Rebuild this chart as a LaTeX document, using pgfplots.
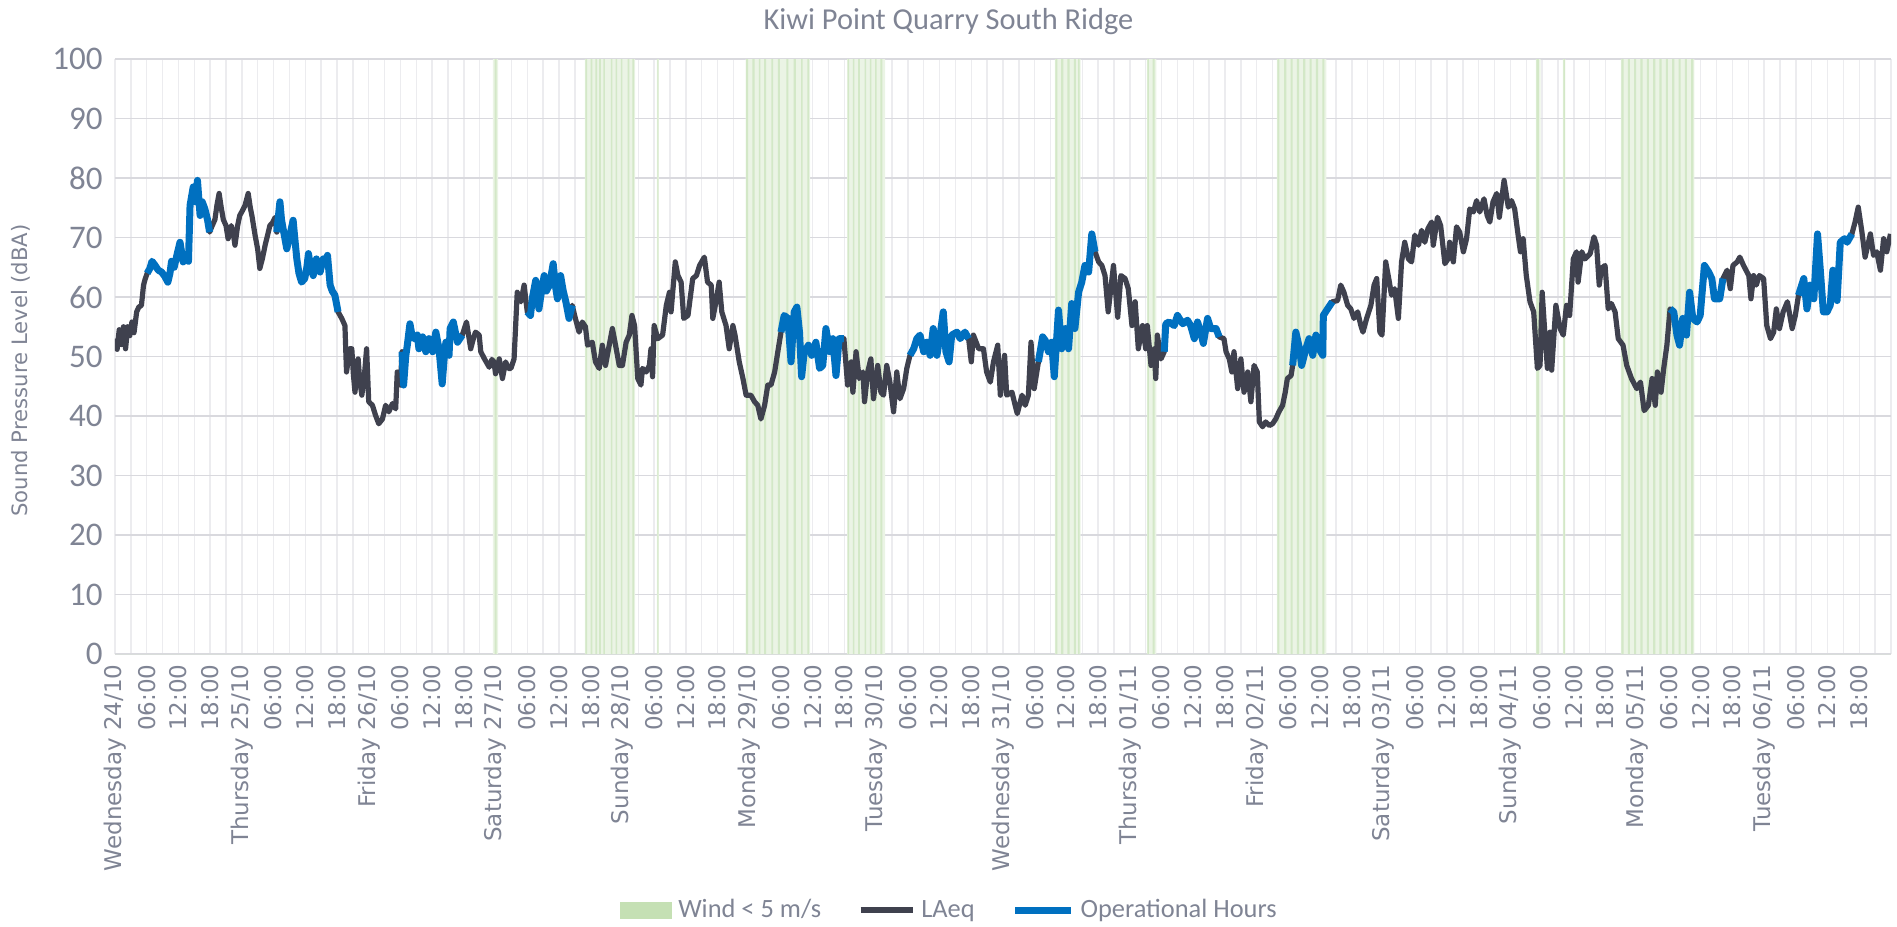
\documentclass[border=0pt]{standalone}
\usepackage{fontspec}
\setmainfont{Carlito}
\newfontfamily\dejavu{DejaVu Sans}
\usepackage{pgfplots}
\usepackage{pgfplotstable}
\pgfplotsset{compat=1.18}
\definecolor{txtgrey}{RGB}{127,132,148}
\definecolor{laeqc}{RGB}{63,65,78}
\definecolor{opblue}{RGB}{0,112,192}
\definecolor{windgreen}{RGB}{197,224,180}
\definecolor{hgrid}{RGB}{217,217,222}
\definecolor{vgrid}{RGB}{236,236,239}

\pgfplotstableread[row sep=\\]{
h v\\
0 53\\ 0.4 51.2\\ 0.8 54.5\\ 1.2 52\\ 1.6 55\\ 2.0 51.3\\ 2.4 55\\ 2.8 53.5\\ 3.2 55.8\\ 3.6 54\\ 4.1 57.5\\ 4.5 58.3\\ 5.0 58.6\\ 5.4 62\\ 5.7 63\\
6.1 64\\ 6.6 64.8\\ 7.0 66\\ 7.6 65.3\\ 8.2 64.5\\ 8.8 64.2\\ 9.4 63.5\\ 10.0 62.5\\ 10.4 64\\ 10.7 66\\ 11.2 65\\ 11.7 67\\ 12.3 69.2\\ 12.9 65.9\\ 13.4 66.5\\ 13.9 66\\ 14.2 75.4\\ 14.8 78.5\\ 15.2 76\\ 15.6 79.6\\ 16.1 73.7\\ 16.5 76\\ 17.0 74.8\\ 17.5 73\\ 17.9 70.9\\
18.4 72\\ 18.9 73\\ 19.3 75.5\\ 19.7 77.4\\ 20.1 75\\ 20.5 73\\ 21.0 72\\ 21.4 69.8\\ 22.0 72\\ 22.4 70.5\\ 22.7 68.7\\ 23.2 72\\ 23.6 73.7\\ 24.1 74.5\\ 24.6 75.4\\ 25.2 77.4\\ 25.6 75\\ 25.9 73.7\\ 26.5 70.4\\ 27.0 68\\ 27.4 64.8\\ 27.9 66.5\\ 28.4 68.7\\ 28.9 70.5\\ 29.3 72\\ 29.8 72.5\\ 30.3 73.4\\
30.6 70.9\\ 31.2 76\\ 31.5 73\\ 31.8 71.5\\ 32.5 68.1\\ 33.1 70.4\\ 33.7 72.9\\ 34.0 70\\ 34.4 66.4\\ 34.8 64\\ 35.3 62.5\\ 35.9 63.1\\ 36.3 65\\ 36.6 67.3\\ 37.0 65\\ 37.5 63.6\\ 38.1 66.4\\ 38.5 65\\ 38.8 64.2\\ 39.4 66.4\\ 39.8 65.5\\ 40.2 67\\ 40.7 62\\ 41.1 61\\ 41.6 60.3\\ 42.2 57.5\\
42.9 56.4\\ 43.5 55.2\\ 43.8 47.4\\ 44.4 51.3\\ 44.8 51.3\\ 45.1 47\\ 45.4 44\\ 46.0 49.6\\ 46.3 46\\ 46.7 43.5\\ 47.2 47\\ 47.6 51.3\\ 48.0 42.4\\ 48.7 41.8\\ 49.3 40.1\\ 49.9 38.7\\ 50.6 39.5\\ 51.2 41.8\\ 51.8 40.7\\ 52.5 42.1\\ 53.1 41.2\\ 53.4 47.4\\ 54.0 45.2\\
54.3 50.8\\ 54.6 45.2\\ 55.0 50\\ 55.3 51.9\\ 55.8 55.5\\ 56.2 53.5\\ 56.6 53\\ 57.2 53.6\\ 57.5 51.3\\ 58.2 53.3\\ 58.8 50.8\\ 59.4 53\\ 60.1 50.8\\ 60.7 54.1\\ 61.3 51.3\\ 61.9 45.4\\ 62.3 50\\ 62.6 52.4\\ 63.2 50.2\\ 63.4 54.7\\ 64.0 55.8\\ 64.8 52.4\\ 65.7 53.6\\
66.5 55.8\\ 67.0 53\\ 67.3 51.3\\ 67.8 53\\ 68.2 54.1\\ 68.9 53.6\\ 69.2 50.8\\ 69.9 49.6\\ 70.8 48.2\\ 71.3 49.5\\ 71.7 49.1\\ 72.0 47.1\\ 72.7 49.6\\ 73.3 46.3\\ 73.9 49.1\\ 74.4 48\\ 74.9 48\\ 75.5 49.6\\ 76.1 60.8\\ 76.8 59.2\\ 77.4 62\\
78.0 57.5\\ 78.6 56.9\\ 79.0 60\\ 79.6 62.8\\ 80.2 58\\ 80.7 61\\ 81.2 63.6\\ 81.6 61\\ 82.2 62\\ 82.9 65.6\\ 83.3 62\\ 83.7 59.7\\ 84.3 63.6\\ 84.8 61\\ 85.3 59.2\\ 85.9 56.4\\ 86.5 58.6\\
87.1 56.4\\ 87.8 54.1\\ 88.4 55.8\\ 89.0 55\\ 89.4 51.9\\ 90.3 52.4\\ 90.9 49.1\\ 91.6 48\\ 92.2 51.9\\ 92.8 48.5\\ 93.5 51.9\\ 94.1 54.7\\ 94.7 51.9\\ 95.4 48.5\\ 96.0 48.5\\ 96.7 52.4\\ 97.3 53.6\\ 97.8 56.9\\ 98.3 55.2\\ 98.9 46.3\\ 99.5 45.2\\ 99.8 48\\ 100.5 47.4\\ 101.1 48.5\\ 101.4 51.3\\ 101.7 46.6\\ 102.0 55.2\\ 102.7 53\\ 103.6 53.6\\ 104.3 58.6\\ 104.9 60.8\\ 105.2 57.5\\ 106.0 65.9\\ 106.5 63.6\\ 107.1 62.5\\ 107.6 56.4\\ 108.4 56.9\\ 109.3 63.1\\ 110.0 63.6\\ 110.6 65.3\\ 111.5 66.7\\ 112.1 62.5\\ 112.8 62\\ 113.1 56.4\\ 113.7 59.2\\ 114.3 62.5\\ 114.8 57.5\\ 115.6 55.2\\ 116.2 51.3\\ 116.9 55.2\\ 117.3 53.6\\ 118.1 49.1\\ 118.8 46.3\\ 119.4 43.5\\ 120.3 43.5\\ 121.0 42.4\\ 121.6 41.8\\ 122.2 39.5\\ 122.9 41.8\\ 123.5 45.2\\ 124.1 45.2\\ 124.8 47.4\\ 125.4 50.8\\
126.0 54.1\\ 126.6 56.9\\ 127.3 56.4\\ 127.9 49.1\\ 128.5 57.5\\ 129.0 58.3\\ 129.5 54.1\\ 129.9 46.6\\ 130.4 50.8\\ 131.2 51.9\\ 131.8 50.2\\ 132.6 52.4\\ 133.3 48\\ 133.9 48.5\\ 134.5 54.7\\ 135.2 50.8\\ 135.8 53\\ 136.4 46.8\\ 137.0 53\\ 137.9 53\\
138.6 45.2\\ 139.3 49.1\\ 139.6 44\\ 140.2 50.8\\ 140.8 46.3\\ 141.5 47.4\\ 141.8 42.4\\ 142.4 47.4\\ 143.0 49.6\\ 143.5 42.9\\ 144.3 48.5\\ 144.9 44\\ 145.4 43.5\\ 146.0 48.5\\ 146.6 45.7\\ 147.3 40.7\\ 147.9 47.4\\ 148.5 42.9\\ 149.2 44.6\\ 149.8 48\\
150.4 50.2\\ 151.1 51.3\\ 151.7 53\\ 152.3 53.6\\ 153.0 50.8\\ 153.6 52.4\\ 154.2 50.2\\ 154.8 54.7\\ 155.5 50.2\\ 156.1 53.6\\ 156.7 57.5\\ 157.2 50.8\\ 157.8 49.1\\ 158.3 53.6\\ 159.3 54.1\\ 159.9 53\\ 160.8 54.1\\ 161.5 53\\
162.0 49.1\\ 162.4 53.6\\ 163.4 51.3\\ 164.3 51.3\\ 164.9 47.4\\ 165.6 45.7\\ 166.2 49.1\\ 167.0 51.9\\ 167.5 43.5\\ 168.3 50.2\\ 168.7 43.5\\ 169.7 44\\ 170.3 41.8\\ 170.7 40.4\\ 171.6 43.5\\ 172.2 41.8\\ 172.8 43.5\\ 173.3 52.4\\ 173.9 44.6\\
174.7 49.1\\ 175.5 53.3\\ 176.0 52.7\\ 176.6 50.8\\ 177.2 52.4\\ 177.7 46.6\\ 178.5 57.8\\ 179.1 51.3\\ 179.8 54.7\\ 180.4 51.3\\ 181.0 58.9\\ 181.6 54.7\\ 182.3 60.8\\ 182.9 62.5\\ 183.5 65.3\\ 184.2 64.2\\ 184.8 70.6\\ 185.4 67.6\\
186.1 65.9\\ 186.7 65.3\\ 187.3 63.6\\ 187.9 57.5\\ 188.9 65.3\\ 189.7 56.6\\ 190.3 63.6\\ 191.1 63.1\\ 191.7 61.4\\ 192.4 55.2\\ 193.0 59.2\\ 193.6 51.3\\ 194.4 55.2\\ 195.0 51.3\\ 195.3 55.2\\ 196.0 48.5\\ 196.6 51.3\\ 196.9 46.3\\ 197.2 53.6\\ 197.9 49.6\\
198.5 50.8\\ 198.8 55.5\\ 199.4 55.8\\ 200.4 55.2\\ 201.0 56.9\\ 202.0 55.5\\ 202.9 56.1\\ 203.5 55.2\\ 204.2 53\\ 204.8 55.8\\ 205.4 54.1\\ 205.9 52.2\\ 206.7 56.4\\ 207.3 54.7\\ 208.3 54.7\\ 208.9 53.3\\
209.8 53\\ 210.2 50.8\\ 210.8 49.6\\ 211.3 47.4\\ 211.7 50.8\\ 212.4 44.6\\ 213.0 49.6\\ 213.6 44\\ 214.3 47.4\\ 214.9 42.4\\ 215.5 48.5\\ 216.1 47.4\\ 216.5 39\\ 217.1 38.2\\ 217.7 39\\ 218.4 38.4\\ 219.0 38.7\\ 219.6 39.5\\ 220.2 40.7\\ 220.9 41.8\\ 221.4 44\\ 221.8 46.3\\ 222.5 46.8\\
222.8 48.5\\ 223.4 54.1\\ 224.1 51.3\\ 224.5 48.5\\ 225.3 51.3\\ 225.9 53\\ 226.6 50.2\\ 227.2 53.6\\ 227.8 51.3\\ 228.5 50.2\\ 228.6 56.9\\ 229.4 58\\ 230.3 59.2\\
231.3 59.4\\ 231.9 62\\ 232.5 60.8\\ 233.2 58.6\\ 233.8 58\\ 234.4 56.4\\ 235.1 57.5\\ 235.7 55.2\\ 236.1 54.1\\ 236.8 56.4\\ 237.6 58.6\\ 238.2 62\\ 238.7 63.1\\ 239.3 54.1\\ 239.7 53.6\\ 240.4 65.9\\ 241.1 62.5\\ 241.5 60.3\\ 242.1 61.4\\ 242.8 56.4\\ 243.4 65.9\\ 244.0 69.2\\ 244.7 66.4\\ 245.3 65.9\\ 245.9 70.4\\ 246.6 68.7\\ 247.2 71.2\\ 247.8 69.2\\ 248.4 71.5\\ 249.1 72.6\\ 249.4 68.7\\ 250.2 73.4\\ 250.8 72\\ 251.6 65.6\\ 252.2 66.4\\ 252.5 69.2\\ 253.2 65.9\\ 253.8 71.8\\ 254.4 70.9\\ 255.1 67.6\\ 255.7 69.8\\ 256.3 74.8\\ 257.0 74.3\\ 257.6 76.2\\ 258.2 74.3\\ 259.0 76.5\\ 259.6 73.7\\ 260.1 72.6\\ 260.7 76\\ 261.4 77.4\\ 261.9 73.4\\ 262.8 79.6\\ 263.6 75.1\\ 264.2 76.2\\ 264.8 74.8\\ 265.5 70.1\\ 265.9 67.6\\ 266.4 69.8\\ 267.0 63.6\\ 267.7 59.2\\ 268.4 57.5\\ 269.1 48\\ 269.6 48.5\\ 270.0 60.8\\ 270.5 54.1\\ 271.0 48\\ 271.5 54.1\\ 271.8 47.7\\ 272.6 58.6\\ 273.4 54.7\\ 274.0 53.6\\ 274.6 58.6\\ 275.2 56.9\\ 275.9 66.4\\ 276.5 67.6\\ 276.8 62.5\\ 277.5 67.6\\ 278.1 66.4\\ 279.1 67.3\\ 279.8 70.1\\ 280.3 68.7\\ 280.8 62\\ 281.2 64.8\\ 281.9 65.3\\ 282.5 58\\ 283.1 58.9\\ 283.8 57.5\\ 284.4 53\\ 285.3 51.9\\ 286.0 48.5\\ 286.9 46.3\\ 287.9 44.6\\ 288.6 45.7\\ 289.3 40.9\\ 290.1 41.8\\ 290.8 46.3\\ 291.4 41.8\\ 291.8 47.4\\ 292.5 44\\ 293.0 48\\ 293.6 51.9\\
294.2 58\\ 294.9 57.5\\ 295.5 53.6\\ 296.0 51.9\\ 296.6 56.4\\ 297.3 53.6\\ 297.9 60.8\\ 298.5 56.4\\ 299.3 55.8\\ 299.9 56.9\\ 300.7 65.3\\ 301.5 64.2\\ 302.1 63.1\\ 302.6 59.7\\ 303.6 59.7\\ 304.2 63.1\\
305.0 64.5\\ 305.6 61.4\\ 306.1 65.3\\ 306.9 65.9\\ 307.4 66.7\\ 308.1 65.3\\ 309.1 63.6\\ 309.5 59.7\\ 310.0 63.6\\ 310.5 62\\ 311.1 63.6\\ 311.9 63.1\\ 312.5 55.2\\ 313.2 53\\ 313.8 54.1\\ 314.3 58\\ 314.9 54.7\\ 315.6 57.5\\ 316.4 59.2\\ 317.3 54.7\\ 317.9 56.9\\
318.5 60.3\\ 319.5 63.1\\ 320.1 58\\ 320.7 62\\ 321.4 59.7\\ 322.1 70.6\\ 322.6 64.8\\ 323.2 57.5\\ 323.9 57.5\\ 324.5 58.6\\ 325.0 64.5\\ 325.8 59.4\\ 326.4 69.2\\ 327.2 69.8\\ 327.7 69.2\\ 328.6 70.6\\
329.2 72.6\\ 329.8 75.1\\ 330.5 70.9\\ 331.1 66.7\\ 332.1 70.6\\ 332.7 67\\ 333.3 67.6\\ 334.0 64.5\\ 334.6 69.8\\ 335.2 67.6\\ 335.9 70.6\\
}\laeq

\pgfplotstableread[row sep=\\]{
h v\\
6.1 64\\ 6.6 64.8\\ 7.0 66\\ 7.6 65.3\\ 8.2 64.5\\ 8.8 64.2\\ 9.4 63.5\\ 10.0 62.5\\ 10.4 64\\ 10.7 66\\ 11.2 65\\ 11.7 67\\ 12.3 69.2\\ 12.9 65.9\\ 13.4 66.5\\ 13.9 66\\ 14.2 75.4\\ 14.8 78.5\\ 15.2 76\\ 15.6 79.6\\ 16.1 73.7\\ 16.5 76\\ 17.0 74.8\\ 17.5 73\\ 17.9 70.9\\ 18 nan\\
30.6 70.9\\ 31.2 76\\ 31.5 73\\ 31.8 71.5\\ 32.5 68.1\\ 33.1 70.4\\ 33.7 72.9\\ 34.0 70\\ 34.4 66.4\\ 34.8 64\\ 35.3 62.5\\ 35.9 63.1\\ 36.3 65\\ 36.6 67.3\\ 37.0 65\\ 37.5 63.6\\ 38.1 66.4\\ 38.5 65\\ 38.8 64.2\\ 39.4 66.4\\ 39.8 65.5\\ 40.2 67\\ 40.7 62\\ 41.1 61\\ 41.6 60.3\\ 42.2 57.5\\ 42.5 nan\\
54.3 50.8\\ 54.6 45.2\\ 55.0 50\\ 55.3 51.9\\ 55.8 55.5\\ 56.2 53.5\\ 56.6 53\\ 57.2 53.6\\ 57.5 51.3\\ 58.2 53.3\\ 58.8 50.8\\ 59.4 53\\ 60.1 50.8\\ 60.7 54.1\\ 61.3 51.3\\ 61.9 45.4\\ 62.3 50\\ 62.6 52.4\\ 63.2 50.2\\ 63.4 54.7\\ 64.0 55.8\\ 64.8 52.4\\ 65.7 53.6\\ 66 nan\\
78.0 57.5\\ 78.6 56.9\\ 79.0 60\\ 79.6 62.8\\ 80.2 58\\ 80.7 61\\ 81.2 63.6\\ 81.6 61\\ 82.2 62\\ 82.9 65.6\\ 83.3 62\\ 83.7 59.7\\ 84.3 63.6\\ 84.8 61\\ 85.3 59.2\\ 85.9 56.4\\ 86.5 58.6\\ 87 nan\\
126.0 54.1\\ 126.6 56.9\\ 127.3 56.4\\ 127.9 49.1\\ 128.5 57.5\\ 129.0 58.3\\ 129.5 54.1\\ 129.9 46.6\\ 130.4 50.8\\ 131.2 51.9\\ 131.8 50.2\\ 132.6 52.4\\ 133.3 48\\ 133.9 48.5\\ 134.5 54.7\\ 135.2 50.8\\ 135.8 53\\ 136.4 46.8\\ 137.0 53\\ 137.9 53\\ 138 nan\\
150.4 50.2\\ 151.1 51.3\\ 151.7 53\\ 152.3 53.6\\ 153.0 50.8\\ 153.6 52.4\\ 154.2 50.2\\ 154.8 54.7\\ 155.5 50.2\\ 156.1 53.6\\ 156.7 57.5\\ 157.2 50.8\\ 157.8 49.1\\ 158.3 53.6\\ 159.3 54.1\\ 159.9 53\\ 160.8 54.1\\ 161.5 53\\ 161.8 nan\\
174.7 49.1\\ 175.5 53.3\\ 176.0 52.7\\ 176.6 50.8\\ 177.2 52.4\\ 177.7 46.6\\ 178.5 57.8\\ 179.1 51.3\\ 179.8 54.7\\ 180.4 51.3\\ 181.0 58.9\\ 181.6 54.7\\ 182.3 60.8\\ 182.9 62.5\\ 183.5 65.3\\ 184.2 64.2\\ 184.8 70.6\\ 185.4 67.6\\ 185.8 nan\\
198.5 50.8\\ 198.8 55.5\\ 199.4 55.8\\ 200.4 55.2\\ 201.0 56.9\\ 202.0 55.5\\ 202.9 56.1\\ 203.5 55.2\\ 204.2 53\\ 204.8 55.8\\ 205.4 54.1\\ 205.9 52.2\\ 206.7 56.4\\ 207.3 54.7\\ 208.3 54.7\\ 208.9 53.3\\ 209.2 nan\\
222.8 48.5\\ 223.4 54.1\\ 224.1 51.3\\ 224.5 48.5\\ 225.3 51.3\\ 225.9 53\\ 226.6 50.2\\ 227.2 53.6\\ 227.8 51.3\\ 228.5 50.2\\ 228.6 56.9\\ 229.4 58\\ 230.3 59.2\\ 230.6 nan\\
294.2 58\\ 294.9 57.5\\ 295.5 53.6\\ 296.0 51.9\\ 296.6 56.4\\ 297.3 53.6\\ 297.9 60.8\\ 298.5 56.4\\ 299.3 55.8\\ 299.9 56.9\\ 300.7 65.3\\ 301.5 64.2\\ 302.1 63.1\\ 302.6 59.7\\ 303.6 59.7\\ 304.2 63.1\\ 304.5 nan\\
318.5 60.3\\ 319.5 63.1\\ 320.1 58\\ 320.7 62\\ 321.4 59.7\\ 322.1 70.6\\ 322.6 64.8\\ 323.2 57.5\\ 323.9 57.5\\ 324.5 58.6\\ 325.0 64.5\\ 325.8 59.4\\ 326.4 69.2\\ 327.2 69.8\\ 327.7 69.2\\ 328.6 70.6\\
}\ophours

\pgfplotstableread[row sep=\\]{
h v\\
0 0\\ 71.5 100\\ 72.5 0\\ 88.9 100\\ 98.4 0\\ 102.5 100\\ 102.9 0\\ 119.3 100\\ 131.5 0\\ 138.5 100\\ 145.7 0\\ 177.8 100\\ 182.7 0\\ 195.2 100\\ 197.0 0\\ 219.8 100\\ 229.2 0\\ 268.8 100\\ 269.7 0\\ 273.9 100\\ 274.4 0\\ 284.9 100\\ 298.8 0\\ 336 0\\
}\windenv

\pgfplotstableread[row sep=\\]{
h v\\
0 0\\ 71.8 100\\ 72.2 0\\
89.0 100\\ 89.3 0\\ 90.0 100\\ 90.3 0\\ 90.9 100\\ 91.2 0\\ 91.6 100\\ 91.9 0\\ 92.4 100\\ 92.7 0\\ 93.8 100\\ 94.1 0\\ 94.7 100\\ 95.0 0\\ 95.7 100\\ 96.0 0\\ 97.0 100\\ 97.3 0\\ 97.9 100\\ 98.2 0\\ 102.6 100\\ 102.8 0\\
119.4 100\\ 119.8 0\\ 120.6 100\\ 121.0 0\\ 121.8 100\\ 122.1 0\\ 122.8 100\\ 123.2 0\\ 124.2 100\\ 124.5 0\\ 125.4 100\\ 125.8 0\\ 127.0 100\\ 127.4 0\\ 128.4 100\\ 128.8 0\\ 129.8 100\\ 130.1 0\\ 131.0 100\\ 131.3 0\\
138.6 100\\ 138.9 0\\ 139.6 100\\ 139.9 0\\ 140.6 100\\ 140.9 0\\ 141.8 100\\ 142.1 0\\ 142.8 100\\ 143.1 0\\ 143.8 100\\ 144.1 0\\ 144.8 100\\ 145.2 0\\
177.9 100\\ 178.3 0\\ 179.0 100\\ 179.4 0\\ 180.2 100\\ 180.6 0\\ 181.4 100\\ 181.8 0\\ 182.2 100\\ 182.5 0\\
195.3 100\\ 195.6 0\\ 196.3 100\\ 196.7 0\\
219.9 100\\ 220.3 0\\ 221.2 100\\ 221.6 0\\ 222.4 100\\ 222.8 0\\ 223.6 100\\ 224.0 0\\ 224.8 100\\ 225.2 0\\ 226.0 100\\ 226.4 0\\ 227.2 100\\ 227.6 0\\ 228.4 100\\ 228.8 0\\
268.9 100\\ 269.4 0\\ 274.0 100\\ 274.3 0\\
285.0 100\\ 285.4 0\\ 286.2 100\\ 286.6 0\\ 287.4 100\\ 287.8 0\\ 288.6 100\\ 289.0 0\\ 289.8 100\\ 290.2 0\\ 291.0 100\\ 291.4 0\\ 292.2 100\\ 292.6 0\\ 293.4 100\\ 293.8 0\\ 294.6 100\\ 295.0 0\\ 295.8 100\\ 296.2 0\\ 297.0 100\\ 297.4 0\\ 298.2 100\\ 298.6 0\\
336 0\\
}\windstripes

\begin{document}
\begin{tikzpicture}
\path[use as bounding box] (-57.5pt,-136.5pt) rectangle (891pt,327pt);
\begin{axis}[
  at={(0pt,0pt)}, anchor=south west,
  scale only axis, width=888pt, height=297.5pt,
  xmin=0, xmax=336, ymin=0, ymax=100,
  xtick={0,6,...,330},
  xticklabels={Wednesday 24/10,06:00,12:00,18:00,Thursday 25/10,06:00,12:00,18:00,Friday 26/10,06:00,12:00,18:00,Saturday 27/10,06:00,12:00,18:00,Sunday 28/10,06:00,12:00,18:00,Monday 29/10,06:00,12:00,18:00,Tuesday 30/10,06:00,12:00,18:00,Wednesday 31/10,06:00,12:00,18:00,Thursday 01/11,06:00,12:00,18:00,Friday 02/11,06:00,12:00,18:00,Saturday 03/11,06:00,12:00,18:00,Sunday 04/11,06:00,12:00,18:00,Monday 05/11,06:00,12:00,18:00,Tuesday 06/11,06:00,12:00,18:00},
  minor xtick={3,6,...,336},
  ytick={0,10,...,100},
  yticklabels={0,10,20,30,40,50,60,70,80,90,100},
  xmajorgrids, xminorgrids, ymajorgrids,
  x grid style={vgrid, line width=0.75pt},
  y grid style={hgrid, line width=0.9pt},
  axis line style={draw=none},
  major tick length=0pt, minor tick length=0pt,
  xticklabel style={font=\dejavu\fontsize{11.5pt}{13pt}\selectfont, text=txtgrey, inner sep=0pt, yshift=-5pt, rotate=90, anchor=east},
  yticklabel style={font=\fontsize{16.5pt}{18pt}\selectfont, text=txtgrey, inner sep=0pt, xshift=-6pt, anchor=east},
  legend columns=3,
  legend cell align=left,
  legend style={at={(0.4693,-0.4303)}, anchor=center, draw=none, fill=none, inner sep=0pt,
    font=\fontsize{13.2pt}{15pt}\selectfont, text=txtgrey,
    nodes={inner sep=0pt},
    /tikz/every odd column/.append style={column sep=3pt},
    /tikz/every even column/.append style={column sep=18.5pt}},
]
\addplot[const plot, draw=none, fill=windgreen!35, forget plot] table[x=h,y=v]{\windenv} \closedcycle;
\addplot[const plot, draw=none, fill=windgreen!75,
  legend image code/.code={\fill[windgreen] (0pt,-4.25pt) rectangle (26pt,4.25pt);}] table[x=h,y=v]{\windstripes} \closedcycle;
\addplot[laeqc, line width=2.6pt, line join=round,
  legend image code/.code={\draw[laeqc, line width=2.6pt] (0pt,0pt) -- (26pt,0pt);}] table[x=h,y=v]{\laeq};
\addplot[opblue, line width=3.5pt, line join=round, unbounded coords=jump,
  legend image code/.code={\draw[opblue, line width=3.5pt] (0pt,0pt) -- (28pt,0pt);}] table[x=h,y=v]{\ophours};
\legend{Wind < 5 m/s, LAeq, Operational Hours}
\end{axis}
\node[font=\fontsize{15.2pt}{18pt}\selectfont, text=txtgrey, anchor=base, inner sep=0pt] at (416.75pt,312pt) {Kiwi Point Quarry South Ridge};
\node[rotate=90, font=\dejavu\fontsize{10.6pt}{12pt}\selectfont, text=txtgrey, inner sep=0pt] at (-47pt,141.75pt) {Sound Pressure Level (dBA)};
\end{tikzpicture}
\end{document}
